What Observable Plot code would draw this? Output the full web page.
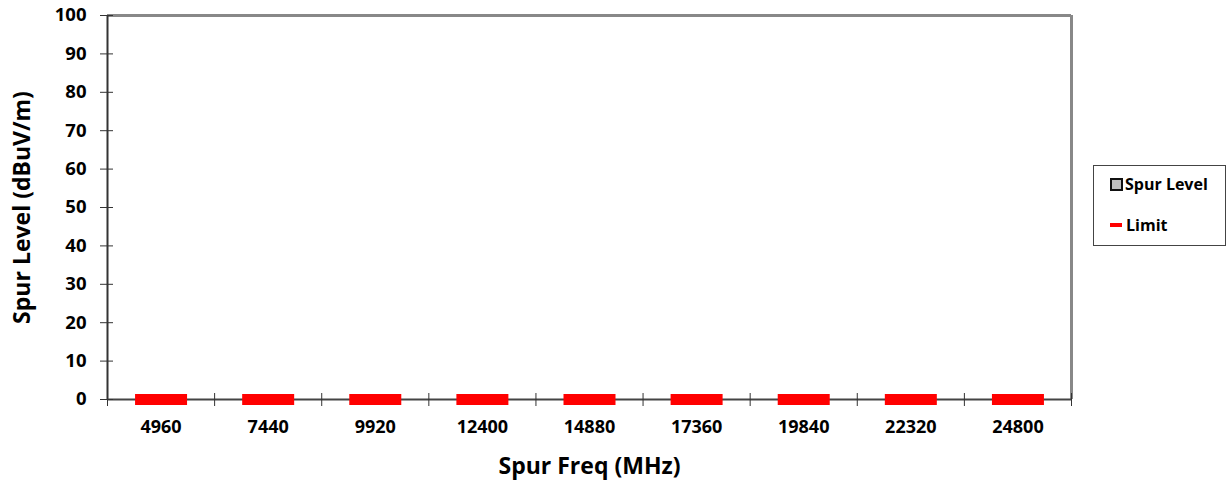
<!DOCTYPE html>
<html>
<head>
<meta charset="utf-8">
<script src="https://cdn.jsdelivr.net/npm/d3@7"></script>
<script src="https://cdn.jsdelivr.net/npm/@observablehq/plot@0.6"></script>
<style>
  body { margin: 0; background: #fff; }
  #wrap { position: relative; width: 1227px; height: 493px; font-family: "Open Sans", Lato, sans-serif; }
  #legend { position: absolute; left: 1093px; top: 165px; width: 133px; height: 81px; box-sizing: border-box;
            border: 1px solid #444; background: #fff; font-weight: bold; font-size: 16px; color: #000; }
  .item { position: absolute; left: 16px; display: flex; align-items: center; }
  .sw-bar { width: 9px; height: 9px; background: #c0c0c0; border: 2px solid #111; margin-right: 2px; }
  .sw-line { width: 12px; height: 4px; background: #ff0000; margin-right: 4px; }
</style>
</head>
<body>
<div id="wrap"></div>
<script>
const categories = ["4960", "7440", "9920", "12400", "14880", "17360", "19840", "22320", "24800"];
const spurLevel = [0, 0, 0, 0, 0, 0, 0, 0, 0];
const limit = [0, 0, 0, 0, 0, 0, 0, 0, 0];
const yTicks = [0, 10, 20, 30, 40, 50, 60, 70, 80, 90, 100];
const xTitle = "Spur Freq (MHz)";
const yTitle = "Spur Level (dBuV/m)";
const seriesNames = ["Spur Level", "Limit"];

const rows = categories.map((c, i) => ({cat: c, pos: i + 0.5, spur: spurLevel[i], limit: limit[i]}));
const boundaries = d3.range(0, categories.length + 1);

const dashSymbol = { draw(ctx) { ctx.rect(-26, -5.5, 52, 11); } };

const chart = Plot.plot({
  width: 1227,
  height: 493,
  marginLeft: 107,
  marginRight: 156,
  marginTop: 15,
  marginBottom: 94,
  style: { fontFamily: "'Open Sans', Lato, sans-serif", background: "#fff", overflow: "visible" },
  x: { type: "linear", domain: [0, categories.length], label: null },
  y: { domain: [0, 100], label: null },
  marks: [
    Plot.rectY(rows, { x1: d => d.pos - 0.3, x2: d => d.pos + 0.3, y: "spur", fill: "#c0c0c0" }),
    Plot.ruleY([100], { stroke: "#888", strokeWidth: 3 }),
    Plot.ruleX([categories.length], { stroke: "#888", strokeWidth: 3 }),
    Plot.ruleX([0], { stroke: "#333", strokeWidth: 2 }),
    Plot.ruleY([0], { stroke: "#444", strokeWidth: 2 }),
    Plot.axisY({ ticks: yTicks, tickSize: 13, dx: 6, tickPadding: 14, fontSize: 18.5, fontWeight: "bold",
                 stroke: "#333", fill: "#000", tickFormat: d => String(d) }),
    Plot.axisX({ ticks: boundaries, tickSize: 13, dy: -6, stroke: "#333", tickFormat: () => "" }),
    Plot.axisX({ ticks: rows.map(d => d.pos), tickSize: 0, tickPadding: 21, fontSize: 18, fontWeight: "bold",
                 fill: "#000", tickFormat: v => categories[Math.floor(v)] }),
    Plot.dot(rows, { x: "pos", y: "limit", symbol: dashSymbol, fill: "#ff0000", stroke: "none", r: 5 }),
    Plot.text([yTitle], { frameAnchor: "left", textAnchor: "middle", rotate: -90, dx: -85, fontSize: 23, fontWeight: "bold", fill: "#000" }),
    Plot.text([xTitle], { frameAnchor: "bottom", dy: 74, fontSize: 23, fontWeight: "bold", fill: "#000" })
  ]
});

const wrap = document.getElementById("wrap");
wrap.appendChild(chart);

const legend = document.createElement("div");
legend.id = "legend";
legend.innerHTML = `
  <div class="item" style="top:7px"><span class="sw-bar"></span>${seriesNames[0]}</div>
  <div class="item" style="top:48px"><span class="sw-line"></span>${seriesNames[1]}</div>`;
wrap.appendChild(legend);
</script>
</body>
</html>
